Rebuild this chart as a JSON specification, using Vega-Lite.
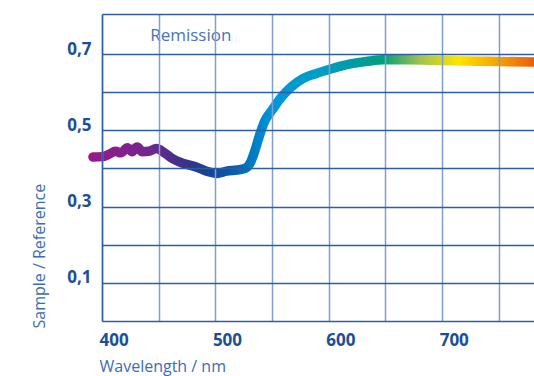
{
  "$schema": "https://vega.github.io/schema/vega-lite/v6.json",
  "autosize": "none",
  "width": 432,
  "height": 307,
  "padding": {"left": 102, "top": 14, "right": 0, "bottom": 55},
  "background": "white",
  "config": {
    "view": {"stroke": null},
    "font": "Open Sans"
  },
  "layer": [
    {
      "data": {
        "values": [
          {"wl": 392, "r": 0.430},
          {"wl": 400, "r": 0.431},
          {"wl": 406, "r": 0.437},
          {"wl": 412, "r": 0.445},
          {"wl": 416.5, "r": 0.441},
          {"wl": 422.5, "r": 0.454},
          {"wl": 426.5, "r": 0.444},
          {"wl": 431, "r": 0.456},
          {"wl": 435.5, "r": 0.444},
          {"wl": 441, "r": 0.445},
          {"wl": 448, "r": 0.452},
          {"wl": 455, "r": 0.441},
          {"wl": 462, "r": 0.426},
          {"wl": 471, "r": 0.414},
          {"wl": 483, "r": 0.404},
          {"wl": 493, "r": 0.392},
          {"wl": 501, "r": 0.387},
          {"wl": 510, "r": 0.393},
          {"wl": 519, "r": 0.396},
          {"wl": 526, "r": 0.400},
          {"wl": 530.5, "r": 0.413},
          {"wl": 535, "r": 0.448},
          {"wl": 539.5, "r": 0.492},
          {"wl": 544, "r": 0.527},
          {"wl": 550, "r": 0.553},
          {"wl": 558.5, "r": 0.588},
          {"wl": 567, "r": 0.614},
          {"wl": 577.5, "r": 0.636},
          {"wl": 589, "r": 0.649},
          {"wl": 601, "r": 0.660},
          {"wl": 619, "r": 0.674},
          {"wl": 636, "r": 0.682},
          {"wl": 648, "r": 0.685},
          {"wl": 670, "r": 0.685},
          {"wl": 700, "r": 0.683},
          {"wl": 740, "r": 0.681},
          {"wl": 781, "r": 0.679}
        ]
      },
      "mark": {
        "type": "line",
        "interpolate": "monotone",
        "strokeWidth": 9.5,
        "strokeCap": "round",
        "strokeJoin": "round",
        "clip": false,
        "color": {
          "gradient": "linear",
          "x1": 0, "y1": 0, "x2": 1, "y2": 0,
          "stops": [
            {"offset": 0, "color": "#961a8a"},
            {"offset": 0.123, "color": "#74268f"},
            {"offset": 0.2, "color": "#40308c"},
            {"offset": 0.252, "color": "#1d3f8f"},
            {"offset": 0.303, "color": "#0a55a5"},
            {"offset": 0.355, "color": "#0077c0"},
            {"offset": 0.406, "color": "#0096d8"},
            {"offset": 0.509, "color": "#009ec8"},
            {"offset": 0.586, "color": "#009aa8"},
            {"offset": 0.658, "color": "#00a07c"},
            {"offset": 0.74, "color": "#9cc250"},
            {"offset": 0.828, "color": "#ffe400"},
            {"offset": 0.92, "color": "#f5a100"},
            {"offset": 1, "color": "#e85d0c"}
          ]
        }
      },
      "encoding": {
        "x": {
          "field": "wl",
          "type": "quantitative",
          "scale": {"domain": [400, 781], "nice": false, "zero": false},
          "axis": {
            "values": [400, 450, 500, 550, 600, 650, 700, 750],
            "labelExpr": "datum.value % 100 == 0 ? datum.label : ''",
            "labelAlign": "left",
            "labelBaseline": "top",
            "labelPadding": 11,
            "labelFont": "Open Sans",
            "labelFontSize": 17,
            "labelFontWeight": "bold",
            "labelColor": "#1c4f97",
            "labelFlush": false,
            "labelOverlap": false,
            "labelOffset": -3,
            "ticks": false,
            "domain": true,
            "domainColor": "#2e5ca6",
            "domainWidth": 1.5,
            "grid": true,
            "gridColor": "#7f9fd0",
            "gridWidth": 1.5,
            "gridOpacity": 1,
            "zindex": 1,
            "title": "Wavelength / nm",
            "titleFont": "Open Sans",
            "titleFontSize": 16,
            "titleFontWeight": "normal",
            "titleColor": "#3b6db3",
            "titleAnchor": "start",
            "titleAlign": "left",
            "titleBaseline": "alphabetic",
            "titleX": -3,
            "titleY": 50
          }
        },
        "y": {
          "field": "r",
          "type": "quantitative",
          "scale": {"domain": [0, 0.805], "nice": false, "zero": false},
          "axis": {
            "values": [0.1, 0.2, 0.3, 0.4, 0.5, 0.6, 0.7, 0.805],
            "labelExpr": "(round(datum.value * 10) % 2 == 1 && datum.value < 0.8) ? replace(format(datum.value, '.1f'), '.', ',') : ''",
            "labelBaseline": "alphabetic",
            "labelAlign": "right",
            "labelPadding": 11,
            "labelFont": "Open Sans",
            "labelFontSize": 17,
            "labelFontWeight": "bold",
            "labelColor": "#1c4f97",
            "labelFlush": false,
            "labelOverlap": false,
            "ticks": false,
            "domain": true,
            "domainColor": "#2e5ca6",
            "domainWidth": 1.5,
            "grid": true,
            "gridColor": "#2e5ca6",
            "gridWidth": 1.5,
            "gridOpacity": 1,
            "zindex": 1,
            "title": "Sample / Reference",
            "titleFont": "Open Sans",
            "titleFontSize": 16,
            "titleFontWeight": "normal",
            "titleColor": "#3b6db3",
            "titleAngle": 270,
            "titleAnchor": "start",
            "titleAlign": "left",
            "titleBaseline": "alphabetic",
            "titleX": -58,
            "titleY": 314
          }
        }
      }
    },
    {
      "data": {"values": [{"label": "Remission"}]},
      "mark": {
        "type": "text",
        "align": "left",
        "baseline": "alphabetic",
        "font": "Open Sans",
        "fontSize": 17,
        "color": "#4a74b5"
      },
      "encoding": {
        "text": {"field": "label", "type": "nominal"},
        "x": {"datum": 442.5, "type": "quantitative"},
        "y": {"datum": 0.733, "type": "quantitative"}
      }
    }
  ]
}
